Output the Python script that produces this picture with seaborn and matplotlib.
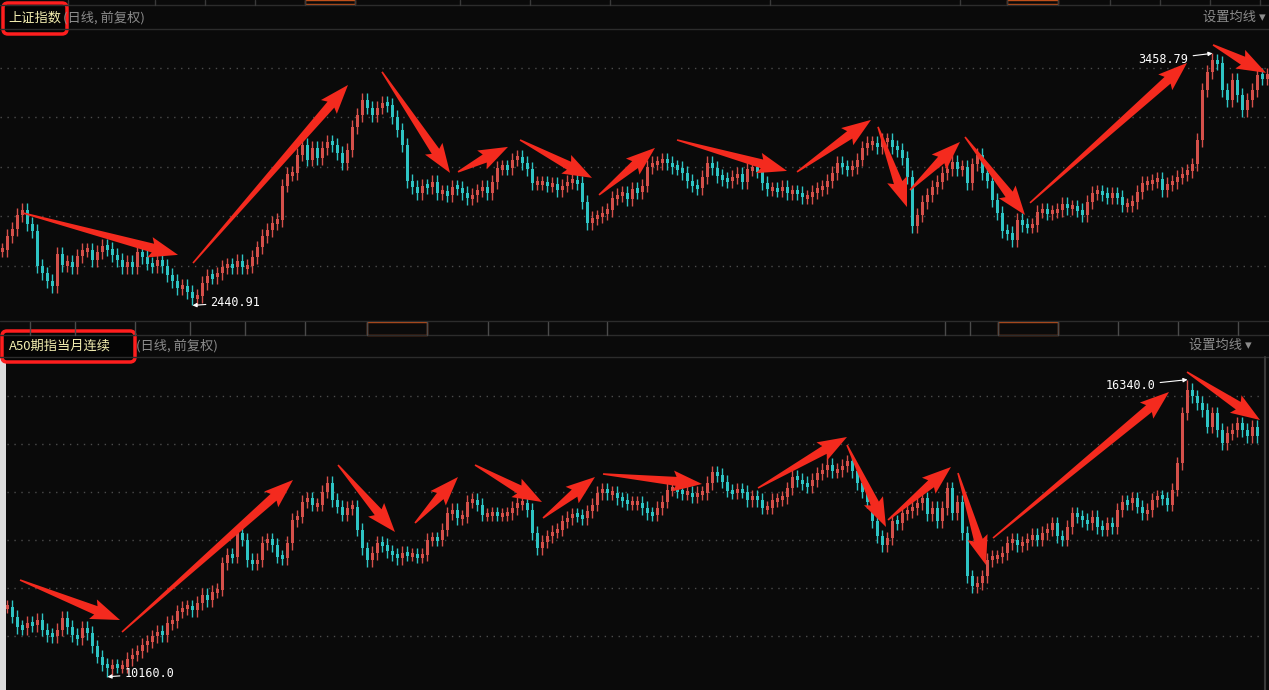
import numpy as np
import pandas as pd
import seaborn as sns
import matplotlib.pyplot as plt
from matplotlib.patches import FancyBboxPatch, Rectangle, Polygon

BG = '#0a0a0a'
UP = '#d4504a'
DOWN = '#2ec4c4'
ARROW = '#f42a1e'
sns.set_theme(style='dark', rc={'axes.facecolor': BG, 'figure.facecolor': BG})
plt.rcParams['font.family'] = ['Noto Sans CJK SC', 'DejaVu Sans']

# 上证指数 daily closes
sh_close = [2665, 2720, 2750, 2805, 2825, 2770, 2740, 2600, 2570, 2540,
            2520, 2650, 2605, 2615, 2595, 2640, 2665, 2665, 2625, 2655,
            2680, 2670, 2645, 2625, 2595, 2615, 2595, 2655, 2635, 2610,
            2600, 2625, 2600, 2565, 2540, 2510, 2520, 2495, 2470, 2480,
            2530, 2560, 2555, 2570, 2595, 2605, 2595, 2620, 2595, 2600,
            2635, 2675, 2720, 2745, 2775, 2785, 2925, 2970, 2975, 3050,
            3090, 3030, 3075, 3035, 3075, 3100, 3090, 3055, 3015, 3070,
            3160, 3210, 3270, 3240, 3210, 3240, 3260, 3250, 3200, 3150,
            3090, 2945, 2920, 2895, 2925, 2920, 2940, 2895, 2900, 2885,
            2920, 2915, 2895, 2875, 2885, 2905, 2920, 2895, 2940, 2995,
            3000, 2995, 3030, 3040, 3015, 2990, 2935, 2935, 2935, 2925,
            2930, 2905, 2925, 2940, 2945, 2935, 2860, 2775, 2795, 2800,
            2815, 2825, 2875, 2885, 2895, 2870, 2910, 2900, 2925, 3000,
            3015, 3015, 3030, 3015, 3000, 2995, 2975, 2945, 2925, 2915,
            2960, 3015, 2995, 2965, 2950, 2945, 2960, 2970, 2940, 2990,
            2995, 2985, 2935, 2910, 2910, 2905, 2920, 2895, 2900, 2895,
            2880, 2880, 2900, 2910, 2920, 2945, 2975, 3015, 3000, 2990,
            3000, 3030, 3075, 3095, 3095, 3080, 3110, 3110, 3080, 3070,
            3035, 2960, 2760, 2805, 2860, 2885, 2920, 2940, 2975, 2990,
            3020, 2990, 3000, 2935, 3010, 3050, 2975, 2945, 2865, 2815,
            2740, 2735, 2705, 2785, 2765, 2760, 2765, 2820, 2825, 2815,
            2820, 2825, 2850, 2835, 2840, 2825, 2805, 2860, 2895, 2900,
            2890, 2880, 2890, 2880, 2845, 2845, 2860, 2900, 2935, 2935,
            2945, 2950, 2905, 2930, 2940, 2960, 2970, 2985, 3010, 3110,
            3310, 3385, 3430, 3420, 3310, 3270, 3350, 3290, 3230, 3270,
            3310, 3370, 3360, 3370]
sh_low_label = 2440.91
sh_high_label = 3458.79
sh_grid = [2600, 2800, 3000, 3200, 3400]

# A50期指当月连续 daily closes
a50_close = [11620, 11410, 11200, 11170, 11280, 11240, 11340, 11140, 11030, 11010,
             11140, 11380, 11200, 11030, 10960, 11170, 11070, 10790, 10580, 10410,
             10340, 10390, 10370, 10370, 10530, 10620, 10690, 10820, 10890, 11000,
             11100, 11030, 11280, 11310, 11520, 11590, 11620, 11550, 11690, 11860,
             11760, 11930, 11970, 12520, 12700, 12660, 13150, 13010, 12590, 12520,
             12590, 12940, 13020, 12900, 12660, 12630, 12940, 13420, 13490, 13800,
             13870, 13740, 13740,
             14010, 14190, 13840, 13700, 13530, 13670, 13700, 13220, 12830, 12590,
             12730, 12940, 12900, 12770, 12700, 12630, 12730, 12700, 12700, 12660,
             12700, 13010, 13040, 13010, 13220, 13560, 13630, 13460, 13490, 13800,
             13840, 13740, 13530, 13530, 13560, 13530, 13530, 13560, 13670, 13770,
             13770, 13630, 13150, 12830, 12970, 13080, 13180, 13220, 13390, 13460,
             13530, 13510, 13460, 13600, 13740, 13980, 14050, 13980, 13980, 13870,
             13840, 13770, 13770, 13770,
             13670, 13560, 13530, 13670, 13800, 14050, 14080, 14010, 13980, 13980,
             13910, 13980, 13980, 14190, 14410, 14360, 14220, 14030, 13990, 14050,
             14010, 13840, 13910, 13840, 13680, 13680, 13840, 13850, 13890, 14080,
             14320, 14250, 14190, 14120, 14250, 14390, 14460, 14570, 14430, 14460,
             14550, 14640, 14430, 14190, 14010, 13800, 13390, 13080, 12900, 13040,
             13390, 13350, 13560, 13610, 13670, 13770, 13870, 13540, 13670, 13390,
             13670, 14080, 13560, 13800,
             13150, 12250, 12040, 12110, 12250, 12590, 12660, 12660, 12730, 12940,
             13010, 12900, 12940, 13010, 13110, 13010, 13150, 13220, 13350, 13080,
             13010, 13280, 13560, 13490, 13420, 13350, 13490, 13280, 13220, 13350,
             13280, 13630, 13800, 13770, 13870, 13700, 13560, 13630, 13840, 13910,
             13870, 13740, 14050, 14600, 15640, 16130, 15990, 15850, 15710, 15360,
             15640, 15290, 15020, 15230, 15290, 15430, 15290, 15160, 15360, 15160]
a50_low_label = 10160.0
a50_high_label = 16340.0
a50_grid = [11000, 12000, 13000, 14000, 15000, 16000]

# hand-drawn arrows: (from bar, from price, to bar, to price)
sh_arrows = [(4.1, 2814, 35.1, 2645), (38.1, 2612, 69.1, 3331),
             (75.9, 3384, 89.5, 2976), (91.1, 2980, 101.1, 3081),
             (103.5, 3109, 117.9, 2956), (119.3, 2887, 130.5, 3077),
             (134.9, 3109, 156.9, 2984), (158.9, 2980, 173.7, 3190),
             (175.1, 3162, 180.9, 2838), (181.5, 2907, 191.5, 3101),
             (192.5, 3121, 204.5, 2806), (205.5, 2855, 236.9, 3420),
             (242.1, 3493, 252.7, 3380)]
a50_arrows = [(3.5, 12173, 23.5, 11341), (23.9, 11091, 58.1, 14253),
              (67.1, 14565, 78.5, 13171), (82.5, 13358, 91.1, 14315),
              (94.5, 14565, 107.9, 13795), (108.1, 13462, 118.5, 14315),
              (120.1, 14378, 139.9, 14170), (151.1, 14086, 168.9, 15147),
              (168.9, 14981, 176.7, 13275), (177.1, 13421, 189.7, 14523),
              (191.1, 14398, 196.7, 12485), (198.1, 13046, 233.3, 16083),
              (236.9, 16499, 251.5, 15501)]


def candles(ax, closes, start, pad, low_label, high_label):
    c = np.asarray(closes, float)
    o = np.r_[c[0], c[:-1]]
    df = pd.DataFrame({'x': np.arange(len(c)) + start, 'o': o, 'c': c})
    df['hi'] = np.maximum(df.o, df.c) + pad
    df['lo'] = np.minimum(df.o, df.c) - pad
    df.loc[df.c.idxmin(), 'lo'] = low_label
    df.loc[df.c.idxmax(), 'hi'] = high_label
    col = np.where(df.c >= df.o, UP, DOWN)
    ax.vlines(df.x, df.lo, df.hi, colors=col, lw=1)
    body = (df.c - df.o).abs()
    h = np.maximum(body, pad * 0.6)
    ax.bar(df.x, h, bottom=np.minimum(df.o, df.c) - (h - body) / 2,
           width=0.45, color=col, lw=0)
    return df


def setup(ax, grid, ylim):
    ax.set_xlim(-0.5, 253.3)
    ax.set_ylim(*ylim)
    ax.set_xticks([])
    ax.set_yticks([])
    for s in ax.spines.values():
        s.set_visible(False)
    for g in grid:
        ax.axhline(g, color='#4c4c4c', lw=1, ls=(0, (1, 4)), zorder=0)


def arrows(ax, lst, hl=26, hw=21, sw=9):
    # tapered marker-pen arrow, shaped in screen pixels
    for x0, y0, x1, y1 in lst:
        p0, p1 = ax.transData.transform([(x0, y0), (x1, y1)])
        u = (p1 - p0) / np.hypot(*(p1 - p0))
        n = np.array([-u[1], u[0]])
        base = p1 - u * hl
        notch = p1 - u * hl * 1.12
        pts = [p0 + n * 0.8, base + n * sw / 2, notch + n * hw / 2, p1,
               notch - n * hw / 2, base - n * sw / 2, p0 - n * 0.8]
        ax.add_patch(Polygon(pts, closed=True, transform=None, fc=ARROW, ec='none',
                             zorder=5))


def mark(ax, df, which, label, dx, dy):
    i = df.c.idxmin() if which == 'low' else df.c.idxmax()
    ax.annotate(f'{label:.2f}' if label < 5000 else f'{label:.1f}',
                xy=(df.x[i], label), xytext=(dx, dy), textcoords='offset pixels',
                color='white', fontsize=8.5, family='DejaVu Sans Mono',
                ha='left' if dx > 0 else 'right', va='center',
                arrowprops=dict(arrowstyle='-|>', color='white', lw=0.8,
                                mutation_scale=6, shrinkA=1, shrinkB=0))


fig = plt.figure(figsize=(12.69, 6.90), dpi=100)
ax1 = fig.add_axes([0, 1 - 320 / 690, 1, 291 / 690])
ax2 = fig.add_axes([0, 0, 1, 333 / 690])

setup(ax1, sh_grid, (2382, 3557))
d1 = candles(ax1, sh_close, 0, 28, sh_low_label, sh_high_label)
arrows(ax1, sh_arrows)
mark(ax1, d1, 'low', sh_low_label, 18, 3)
mark(ax1, d1, 'high', sh_high_label, -24, -6)

setup(ax2, a50_grid, (9885, 16811))
d2 = candles(ax2, a50_close, 1, 140, a50_low_label, a50_high_label)
arrows(ax2, a50_arrows)
mark(ax2, d2, 'low', a50_low_label, 17, 3)
mark(ax2, d2, 'high', a50_high_label, -32, -6)

# window chrome (pixel overlay)
ov = fig.add_axes([0, 0, 1, 1])
ov.set_xlim(0, 1269)
ov.set_ylim(690, 0)
ov.axis('off')
ov.patch.set_alpha(0)
line = '#2c2c2c'
for y in (4.5, 28.5, 320.5, 334.5, 356.5):
    ov.plot([0, 1269], [y, y], color=line, lw=1)
for x in (68, 155, 205, 255, 305, 355, 460, 530, 610, 770, 960, 1007, 1058, 1110, 1160, 1210, 1260):
    ov.plot([x, x], [0, 4.5], color='#3a3a3a', lw=1)
for x in (30, 75, 135, 190, 245, 305, 367, 427, 488, 548, 607, 945, 970, 998, 1058, 1118, 1178, 1238):
    ov.plot([x, x], [322, 334.5], color='#4a4a4a', lw=1)
ov.add_patch(Rectangle((305, 0), 50, 4, fill=False, ec='#c0501a', lw=1))
ov.add_patch(Rectangle((1007, 0), 51, 4, fill=False, ec='#c0501a', lw=1))
ov.add_patch(Rectangle((367, 322), 60, 12.5, fill=False, ec='#c0501a', lw=1))
ov.add_patch(Rectangle((998, 322), 60, 12.5, fill=False, ec='#c0501a', lw=1))
ov.add_patch(Rectangle((0, 357), 6, 333, color='#dcdcdc', lw=0))
ov.plot([1265, 1265], [357, 690], color='#3a3a3a', lw=1.5)

ov.add_patch(FancyBboxPatch((3, 3), 64, 31, boxstyle='round,pad=0,rounding_size=5',
                            fc='#050505', ec='#ff1e1e', lw=2.5))
ov.add_patch(FancyBboxPatch((2, 331), 133, 31, boxstyle='round,pad=0,rounding_size=5',
                            fc='#050505', ec='#ff1e1e', lw=2.5))
ov.text(8, 18, '上证指数', color='#f3eeb0', fontsize=9.5, va='center')
ov.text(63, 18, '(日线, 前复权)', color='#8c8c8c', fontsize=9.5, va='center')
ov.text(1266, 17, '设置均线 ▾', color='#8c8c8c', fontsize=9.5, va='center', ha='right')
ov.text(9, 346, 'A50期指当月连续', color='#f3eeb0', fontsize=9.5, va='center')
ov.text(136, 346, '(日线, 前复权)', color='#8c8c8c', fontsize=9.5, va='center')
ov.text(1252, 345, '设置均线 ▾', color='#8c8c8c', fontsize=9.5, va='center', ha='right')

fig.savefig('out.png', dpi=100, facecolor=BG)
